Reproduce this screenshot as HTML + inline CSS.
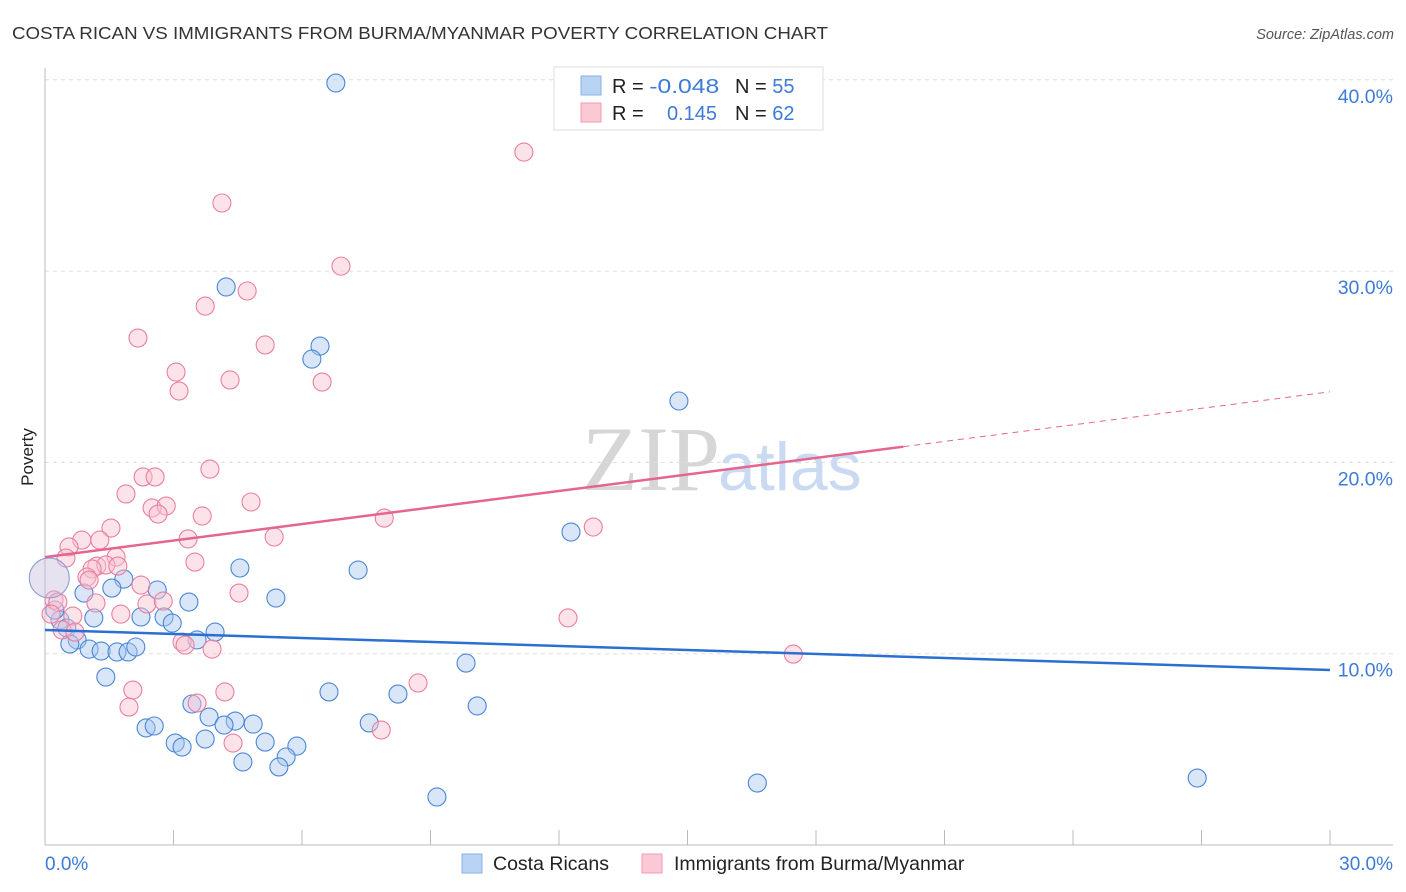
<!DOCTYPE html>
<html><head><meta charset="utf-8"><style>
body{margin:0;background:#fff;font-family:"Liberation Sans",sans-serif;}
#wrap{position:relative;width:1406px;height:892px;overflow:hidden;}
</style></head><body>
<div id="wrap">
<svg id="svg" width="1406" height="892">
<text x="12" y="39" font-size="17.5" fill="#333" textLength="816" lengthAdjust="spacingAndGlyphs">COSTA RICAN VS IMMIGRANTS FROM BURMA/MYANMAR POVERTY CORRELATION CHART</text>
<text x="1394" y="39" font-size="14.5" fill="#555" font-style="italic" text-anchor="end">Source: ZipAtlas.com</text>
<text x="720" y="490" font-size="92" fill="#d6d6d6" text-anchor="end" font-family="Liberation Serif">ZIP</text>
<text x="718" y="490" font-size="68" fill="#c9daf2">atlas</text>
<text transform="translate(33,457) rotate(-90)" font-size="17" fill="#222" text-anchor="middle">Poverty</text>
<g id="grid"></g><g id="marks"></g>
<g>
<rect x="554" y="67" width="269" height="63" fill="#fff" stroke="#ddd"/>
<rect x="581" y="76" width="20" height="19" fill="#b9d3f5" stroke="#8ab0e6"/>
<rect x="581" y="103" width="20" height="19" fill="#fbc8d6" stroke="#f09ab3"/>
<text x="612" y="93" font-size="20" fill="#222">R = <tspan fill="#3d7bd6" textLength="70" lengthAdjust="spacingAndGlyphs">-0.048</tspan></text>
<text x="735" y="93" font-size="20" fill="#222">N = <tspan fill="#3d7bd6">55</tspan></text>
<text x="612" y="120" font-size="20" fill="#222">R = </text>
<text x="717" y="120" font-size="20" fill="#3d7bd6" text-anchor="end">0.145</text>
<text x="735" y="120" font-size="20" fill="#222">N = <tspan fill="#3d7bd6">62</tspan></text>
</g>
<g>
<rect x="462" y="854" width="20" height="19" fill="#b9d3f5" stroke="#8ab0e6"/>
<text x="493" y="870" font-size="19.5" fill="#222">Costa Ricans</text>
<rect x="642" y="854" width="20" height="19" fill="#fbc8d6" stroke="#f09ab3"/>
<text x="674" y="870" font-size="19.5" fill="#222">Immigrants from Burma/Myanmar</text>
</g>
</svg>
</div>
<script>
const yTicks=[10,20,30,40];
const yTickLabels=["10.0%","20.0%","30.0%","40.0%"];
const xTicks=[0,3,6,9,12,15,18,21,24,27,30];
const blueX=[6.79,4.23,6.42,6.23,14.80,12.28,4.55,7.31,1.84,1.56,2.62,0.91,5.39,3.36,1.14,2.24,2.78,2.97,0.35,3.97,0.51,3.55,0.75,0.58,1.03,1.31,1.68,1.94,2.12,9.83,1.42,6.63,8.24,3.43,10.09,3.83,4.44,4.86,7.57,2.36,2.55,4.18,3.04,3.20,3.74,5.14,5.88,5.63,4.62,5.46,16.63,26.90,9.15,0.23];
const blueY=[39.83,29.17,26.08,25.40,23.21,16.36,14.48,14.37,13.90,13.43,13.33,13.17,12.91,12.70,11.87,11.92,11.92,11.60,11.76,11.13,11.34,10.72,10.72,10.51,10.24,10.14,10.09,10.09,10.35,9.51,8.78,8.00,7.89,7.37,7.27,6.69,6.48,6.32,6.38,6.12,6.22,6.27,5.33,5.12,5.54,5.38,5.17,4.60,4.34,4.08,3.24,3.50,2.51,12.28];
const pinkX=[11.18,4.13,6.91,3.74,4.72,2.17,5.14,3.06,4.32,3.13,6.47,3.85,2.29,2.57,1.89,4.81,2.50,2.83,2.64,3.67,7.92,12.80,1.54,5.35,0.86,1.28,3.34,0.56,0.49,1.66,1.21,1.42,1.70,3.50,1.10,0.98,1.03,2.24,4.53,0.21,0.30,1.19,2.38,2.76,1.77,0.14,0.65,12.21,3.20,3.27,3.90,0.40,0.70,17.47,8.71,2.05,4.20,3.55,1.96,4.39,7.85];
const pinkY=[36.22,33.56,30.26,28.17,28.96,26.50,26.14,24.72,24.31,23.73,24.20,19.65,19.24,19.24,18.35,17.93,17.62,17.72,17.30,17.20,17.09,16.62,16.57,16.10,15.94,15.94,16.00,15.58,15.00,15.05,14.58,14.64,14.58,14.79,14.43,14.01,13.85,13.59,13.17,12.81,12.70,12.65,12.60,12.75,12.07,12.07,11.97,11.87,10.61,10.45,10.24,11.24,11.13,9.98,8.47,8.10,8.00,7.42,7.21,5.33,6.01];
const bigPoint=[0.1,13.96];
const blueTrend=[11.24,9.15];
const pinkTrend=[15.05,23.69];
const pinkSolidEnd=20.04;
const X=v=>45+v/30*1285, Y=v=>845-v/10*191.3;
const NS="http://www.w3.org/2000/svg";
function mk(t,a,p){const e=document.createElementNS(NS,t);for(const k in a)e.setAttribute(k,a[k]);p.appendChild(e);return e;}
const g=document.getElementById('grid'), m=document.getElementById('marks');
yTicks.forEach((t,i)=>{
 const l=mk('line',{x1:45,x2:1393,y1:Y(t),y2:Y(t),stroke:'#ddd','stroke-dasharray':'4,4'},g);
 
 
 const tx=mk('text',{x:1393,y:Y(t)+23,'font-size':19.5,fill:'#3d7bd6','text-anchor':'end'},g);
 tx.textContent=yTickLabels[i];
 
 
});
const ax=mk('line',{x1:45,x2:1393,y1:845,y2:845,stroke:'#bbb'},g);


const ay=mk('line',{x1:45,x2:45,y1:68,y2:845,stroke:'#bbb'},g);


xTicks.forEach(t=>{
 const l=mk('line',{x1:X(t),x2:X(t),y1:830,y2:845,stroke:'#bbb'},g);
 
 
});
const x0=mk('text',{x:45,y:870,'font-size':19,fill:'#3d7bd6'},g);x0.textContent='0.0%';


const x1=mk('text',{x:1393,y:870,'font-size':19,fill:'#3d7bd6','text-anchor':'end'},g);x1.textContent='30.0%';


function dot(x,y,fill,stroke,r,name){
 const c=mk('circle',{cx:X(x),cy:Y(y),r:r,fill:fill,'fill-opacity':0.45,stroke:stroke,'stroke-width':1.1},m);
 
 
}
blueX.forEach((x,i)=>dot(x,blueY[i],'#a9c8f0','#4a86d8',9,'costa-rican-point'));
pinkX.forEach((x,i)=>dot(x,pinkY[i],'#f9c0d0','#ea7fa0',9,'burma-point'));
dot(bigPoint[0],bigPoint[1],'#c9bfdc','#8a9fd8',20,'large-point');
const bl=mk('line',{x1:X(0),y1:Y(blueTrend[0]),x2:X(30),y2:Y(blueTrend[1]),stroke:'#2a6fd1','stroke-width':2.5},m);


const ps=pinkTrend[0]+(pinkTrend[1]-pinkTrend[0])*pinkSolidEnd/30;
const pl=mk('line',{x1:X(0),y1:Y(pinkTrend[0]),x2:X(pinkSolidEnd),y2:Y(ps),stroke:'#e4668f','stroke-width':2.5},m);


const pd=mk('line',{x1:X(pinkSolidEnd),y1:Y(ps),x2:X(30),y2:Y(pinkTrend[1]),stroke:'#e4668f','stroke-width':1,'stroke-dasharray':'6,5'},m);


</script>
</body></html>
